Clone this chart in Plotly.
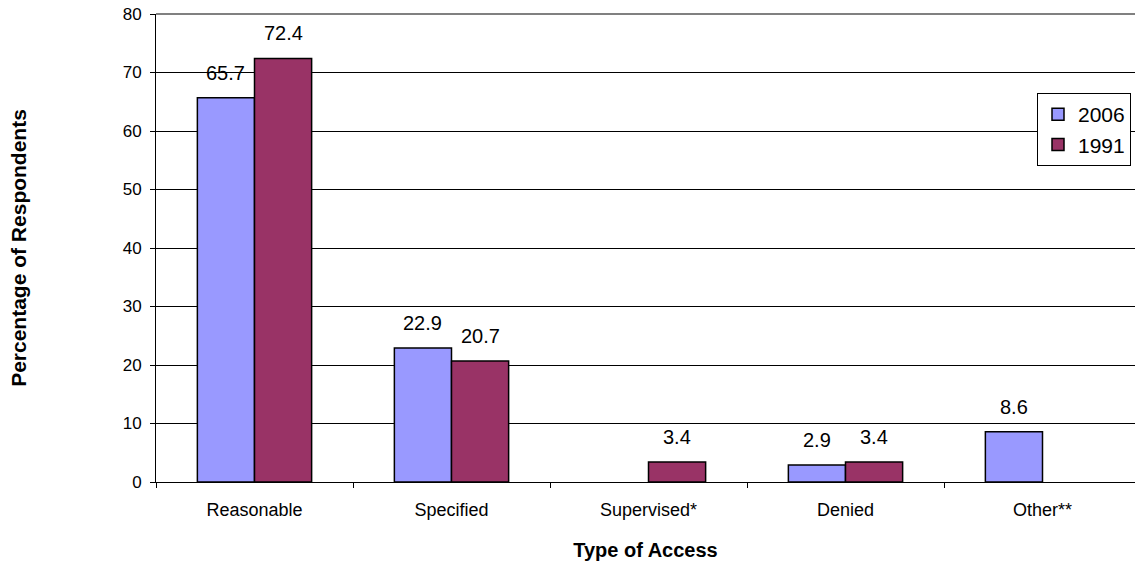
import plotly.graph_objects as go

# Survey results: type of access, share of respondents (%)
categories = ["Reasonable", "Specified", "Supervised*", "Denied", "Other**"]
values_2006 = [65.7, 22.9, None, 2.9, 8.6]
values_1991 = [72.4, 20.7, 3.4, 3.4, None]
series_names = ["2006", "1991"]
y_ticks = [0, 10, 20, 30, 40, 50, 60, 70, 80]

FONT = "Liberation Sans, Arial, sans-serif"
COLORS = ["#9999FF", "#993366"]

W, H = 1135, 563
M_L, M_R, M_T, M_B = 156, 0, 14, 81
BARGAP = 0.42
CAT_PX = 197  # width of one category slot in pixels
plot_w = W - M_L - M_R
plot_h = H - M_T - M_B
x_max = plot_w / CAT_PX - 0.5

fig = go.Figure()
for name, vals, col in zip(series_names, [values_2006, values_1991], COLORS):
    fig.add_trace(go.Bar(
        name=name, x=categories, y=vals, legendgroup=name,
        marker=dict(color=col, line=dict(color="black", width=1.5)),
    ))

# value labels above each bar
bar_px = (1 - BARGAP) / 2 * CAT_PX
annotations = []
for i, vals in enumerate([values_2006, values_1991]):
    shift = (i - 0.5) * bar_px
    for cat, v in zip(categories, vals):
        if v is None:
            continue
        annotations.append(dict(
            x=cat, y=v, xref="x", yref="y", text=f"{v:.1f}",
            showarrow=False, xshift=shift, yshift=25, yanchor="middle",
            font=dict(family=FONT, size=20, color="black"),
        ))

fig.update_layout(
    width=W, height=H,
    margin=dict(l=M_L, r=M_R, t=M_T, b=M_B, pad=0),
    paper_bgcolor="white", plot_bgcolor="white",
    barmode="group", bargap=BARGAP, bargroupgap=0,
    font=dict(family=FONT, color="black"),
    annotations=annotations,
    legend=dict(
        x=(1037 - M_L) / plot_w, y=1 - (93 - M_T) / plot_h,
        xanchor="left", yanchor="top",
        bordercolor="black", borderwidth=1, bgcolor="white",
        font=dict(family=FONT, size=21, color="black"),
        traceorder="normal", tracegroupgap=4,
    ),
    showlegend=True,
)
fig.update_xaxes(
    range=[-0.5, x_max], showline=True, linecolor="black", linewidth=1,
    ticks="outside", ticklen=5, tickcolor="black", tickson="boundaries",
    ticklabelstandoff=11,
    showgrid=False, tickfont=dict(family=FONT, size=18),
    title=dict(text="<b>Type of Access</b>", font=dict(family=FONT, size=20), standoff=24),
)
fig.update_yaxes(
    range=[0, 80], tickvals=y_ticks, showline=True, linecolor="black", linewidth=1,
    ticks="outside", ticklen=5, tickcolor="black", ticklabelstandoff=5,
    showgrid=True, gridcolor="black", gridwidth=1, zeroline=False,
    tickfont=dict(family=FONT, size=17),
    title=dict(text="<b>Percentage of Respondents</b>", font=dict(family=FONT, size=21), standoff=90),
)
# grey frame line along the top of the plot area
fig.add_shape(type="line", xref="paper", yref="paper", x0=0, x1=1, y0=1, y1=1,
              line=dict(color="#808080", width=2))

fig.write_html("out.html")
